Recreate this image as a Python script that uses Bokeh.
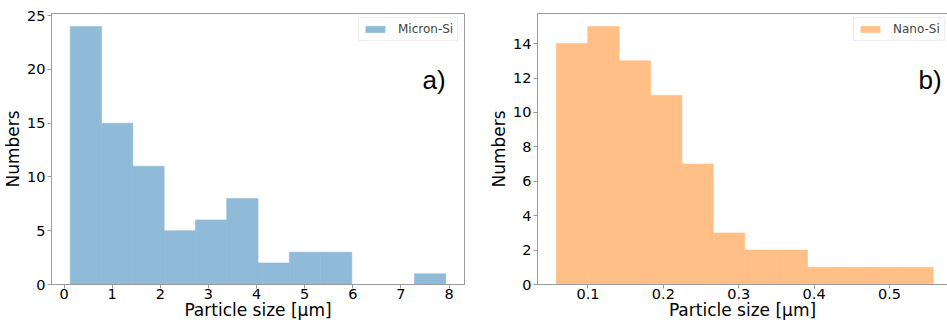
from bokeh.plotting import figure
from bokeh.layouts import row
from bokeh.models import Legend, LegendItem, Label, LinearAxis, FixedTicker, Range1d
from bokeh.embed import file_html
from bokeh.resources import INLINE

# Histogram of micron-sized Si particles (bin edges in µm, counts per bin)
micron_edges = [0.13, 0.78, 1.43, 2.08, 2.73, 3.38, 4.03, 4.68, 5.33, 5.98, 6.63, 7.28, 7.93]
micron_counts = [24, 15, 11, 5, 6, 8, 2, 3, 3, 0, 0, 1]
micron_xticks = [0, 1, 2, 3, 4, 5, 6, 7, 8]
micron_yticks = [0, 5, 10, 15, 20, 25]

# Histogram of nano-sized Si particles (bin edges in µm, counts per bin)
nano_edges = [0.058, 0.0997, 0.1413, 0.183, 0.2247, 0.2663, 0.308, 0.3497,
              0.3913, 0.433, 0.4747, 0.5163, 0.558]
nano_counts = [14, 15, 13, 11, 7, 3, 2, 2, 1, 1, 1, 1]
nano_xticks = [0.1, 0.2, 0.3, 0.4, 0.5]
nano_yticks = [0, 2, 4, 6, 8, 10, 12, 14]

FONT = "DejaVu Sans"
FRAME = "#9a9a9a"
# half-transparent tab:blue / tab:orange on white, as opaque fills
MICRON_COLOR = "#8fbbd9"
NANO_COLOR = "#ffbf86"


def style_axes(p):
    for ax in (p.xaxis[0], p.yaxis[0]):
        ax.axis_line_color = FRAME
        ax.major_tick_line_color = FRAME
        ax.minor_tick_line_color = None
        ax.major_tick_in = 0
        ax.major_tick_out = 4
        ax.major_label_text_font = FONT
        ax.major_label_text_font_size = "14.5px"
        ax.major_label_text_color = "black"
        ax.axis_label_text_font = FONT
        ax.axis_label_text_font_size = "17px"
        ax.axis_label_text_font_style = "normal"
        ax.axis_label_text_color = "black"
    p.xaxis.major_label_standoff = 0
    p.xaxis.axis_label_standoff = -2
    p.yaxis.major_label_standoff = 2
    p.yaxis.axis_label_standoff = 1
    p.grid.visible = False


def panel(edges, counts, xticks, yticks, xr, yr, color, name, tag, tag_xy,
          width, left, right, legend_loc, outline):
    p = figure(width=width, height=323, x_range=Range1d(*xr), y_range=Range1d(*yr),
               output_backend="svg", toolbar_location=None,
               min_border_left=left, min_border_right=right,
               min_border_top=13, min_border_bottom=39)
    r = p.quad(left=edges[:-1], right=edges[1:], bottom=0, top=counts,
               fill_color=color, line_color=color, line_width=0.6)
    p.xaxis.ticker = FixedTicker(ticks=xticks)
    p.yaxis.ticker = FixedTicker(ticks=yticks)
    p.xaxis.axis_label = "Particle size [µm]"
    p.yaxis.axis_label = "Numbers"
    style_axes(p)
    if outline:
        p.outline_line_color = FRAME
    else:
        p.outline_line_color = None
        top = LinearAxis(ticker=FixedTicker(ticks=[]), axis_line_color=FRAME,
                         major_tick_out=0, major_tick_in=0, minor_tick_out=0,
                         minor_tick_in=0, major_label_standoff=0)
        p.add_layout(top, "above")

    leg = Legend(items=[LegendItem(label=name, renderers=[r])], location=legend_loc,
                 label_text_font=FONT, label_text_font_size="12px",
                 glyph_width=24, glyph_height=8, label_height=10,
                 label_standoff=11, padding=4, spacing=0, margin=0,
                 border_line_color="#dddddd", border_line_width=1,
                 background_fill_alpha=0.8)
    p.add_layout(leg)

    p.add_layout(Label(x=tag_xy[0], y=tag_xy[1], text=tag, text_font="Liberation Sans",
                       text_font_size="26px", text_color="black",
                       text_baseline="alphabetic"))
    return p


p1 = panel(micron_edges, micron_counts, micron_xticks, micron_yticks,
           (-0.26, 8.32), (0, 25.2), MICRON_COLOR, "Micron-Si", "a)", (7.45, 19.0),
           480, 49, 16, (307, 243), True)
p2 = panel(nano_edges, nano_counts, nano_xticks, nano_yticks,
           (0.033, 0.577), (0, 15.75), NANO_COLOR, "Nano-Si", "b)", (0.5385, 11.88),
           467, 57, 0, (316, 243), False)

layout = row(p1, p2)
open("out.html", "w").write(file_html(layout, INLINE))
